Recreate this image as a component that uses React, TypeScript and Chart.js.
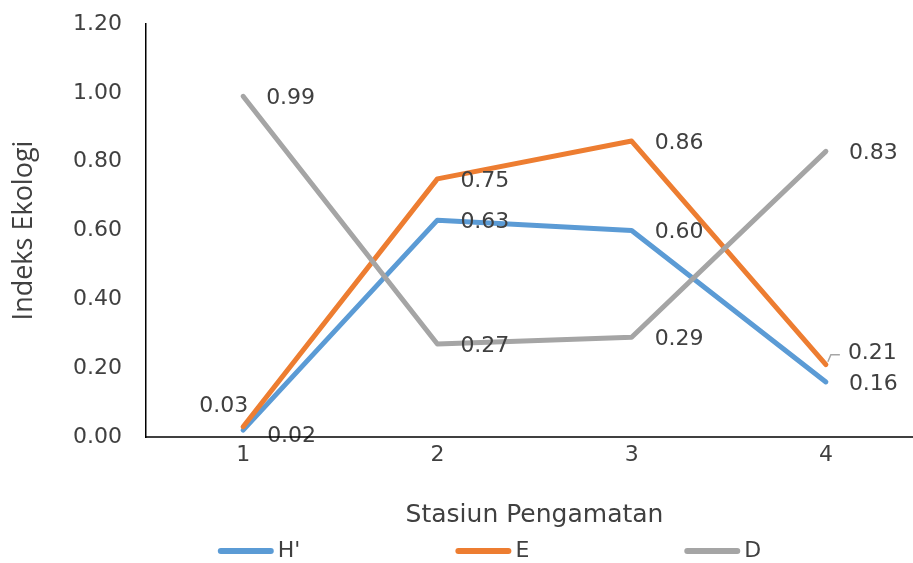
import { useEffect, useRef } from "react";
import { Chart, registerables } from "chart.js";

Chart.register(...registerables);

// Observation stations on the x axis
const stations = ["1", "2", "3", "4"];
// Diversity (H'), evenness (E) and dominance (D) per station
const diversityH = [0.02, 0.63, 0.6, 0.16];
const evennessE = [0.03, 0.75, 0.86, 0.21];
const dominanceD = [0.99, 0.27, 0.29, 0.83];
// Value axis range and tick step
const yMin = 0;
const yMax = 1.2;
const yStep = 0.2;

const seriesNames = ["H'", "E", "D"];
const seriesColors = ["#5B9BD5", "#ED7D31", "#A5A5A5"];

const TEXT = "#404040";
const FONT = "'DejaVu Sans', sans-serif";

// Label placement tweaks: [seriesIndex, pointIndex] -> position style
type Place = { dx: number; dy: number; align: CanvasTextAlign; leader?: boolean };
const defaultPlace: Place = { dx: 23, dy: 2, align: "left" };
const specialPlaces: Record<string, Place> = {
  "0-0": { dx: 24, dy: 6, align: "left" },
  "1-0": { dx: 5, dy: -20, align: "right" },
  "1-3": { dx: 22, dy: -11, align: "left", leader: true },
};

const dataLabelPlugin = {
  id: "pointValueLabels",
  afterDatasetsDraw(chart: any) {
    const ctx: CanvasRenderingContext2D = chart.ctx;
    ctx.save();
    ctx.font = `22px ${FONT}`;
    ctx.fillStyle = TEXT;
    ctx.textBaseline = "middle";
    chart.data.datasets.forEach((ds: any, si: number) => {
      const meta = chart.getDatasetMeta(si);
      meta.data.forEach((pt: any, pi: number) => {
        const v = ds.data[pi] as number;
        const place = specialPlaces[`${si}-${pi}`] || defaultPlace;
        if (place.leader) {
          ctx.strokeStyle = "#A6A6A6";
          ctx.lineWidth = 1.5;
          ctx.beginPath();
          ctx.moveTo(pt.x + 2, pt.y - 3);
          ctx.lineTo(pt.x + 5, pt.y - 10);
          ctx.lineTo(pt.x + 14, pt.y - 10);
          ctx.stroke();
        }
        ctx.textAlign = place.align;
        ctx.fillText(v.toFixed(2), pt.x + place.dx, pt.y + place.dy);
      });
    });
    ctx.restore();
  },
};

// Category axis line, running from the value axis to the canvas edge
const baselinePlugin = {
  id: "categoryBaseline",
  afterDraw(chart: any) {
    const ctx: CanvasRenderingContext2D = chart.ctx;
    const { left, bottom } = chart.chartArea;
    ctx.save();
    ctx.strokeStyle = "#000000";
    ctx.lineWidth = 1.5;
    ctx.beginPath();
    ctx.moveTo(left - 0.75, bottom);
    ctx.lineTo(chart.width, bottom);
    ctx.stroke();
    ctx.restore();
  },
};

const legendPlugin = {
  id: "lineLegend",
  afterDraw(chart: any) {
    const ctx: CanvasRenderingContext2D = chart.ctx;
    const lineLen = 56;
    const textGap = 4;
    const itemGap = 155;
    ctx.save();
    ctx.font = `22px ${FONT}`;
    ctx.textBaseline = "middle";
    ctx.textAlign = "left";
    const widths = seriesNames.map((n) => lineLen + textGap + ctx.measureText(n).width);
    const total = widths.reduce((a, b) => a + b, 0) + itemGap * (widths.length - 1);
    let x = chart.width / 2 + 28 - total / 2;
    const y = chart.height - 12;
    seriesNames.forEach((name, i) => {
      ctx.strokeStyle = seriesColors[i];
      ctx.lineWidth = 6;
      ctx.lineCap = "round";
      ctx.beginPath();
      ctx.moveTo(x + 3, y);
      ctx.lineTo(x + lineLen - 3, y);
      ctx.stroke();
      ctx.fillStyle = TEXT;
      ctx.fillText(name, x + lineLen + textGap, y);
      x += widths[i] + itemGap;
    });
    ctx.restore();
  },
};

export default function App() {
  const canvasRef = useRef<HTMLCanvasElement | null>(null);

  useEffect(() => {
    if (!canvasRef.current) return;
    const series = [diversityH, evennessE, dominanceD];
    const chart = new Chart(canvasRef.current, {
      type: "line",
      data: {
        labels: stations,
        datasets: series.map((values, i) => ({
          label: seriesNames[i],
          data: values,
          borderColor: seriesColors[i],
          backgroundColor: seriesColors[i],
          borderWidth: 5,
          borderCapStyle: "round" as const,
          borderJoinStyle: "round" as const,
          pointRadius: 0,
          pointHoverRadius: 0,
          tension: 0,
          fill: false,
          order: 3 - i,
        })),
      },
      options: {
        responsive: false,
        animation: false,
        events: [],
        layout: { padding: { top: 24, left: 0, right: 0, bottom: 0 } },
        plugins: {
          legend: { display: false },
          tooltip: { enabled: false },
        },
        scales: {
          x: {
            offset: true,
            grid: { display: false, drawTicks: false },
            border: { display: false },
            ticks: { color: TEXT, font: { family: FONT, size: 22 }, padding: 5 },
            title: {
              display: true,
              text: "Stasiun Pengamatan",
              color: TEXT,
              font: { family: FONT, size: 25 },
              padding: { top: 0, bottom: 33 },
            },
            afterFit(scale: any) {
              scale.height = 126;
            },
          },
          y: {
            min: yMin,
            max: yMax,
            grid: { display: false, drawTicks: false },
            border: { display: true, color: "#000000", width: 1.5 },
            ticks: {
              stepSize: yStep,
              color: TEXT,
              font: { family: FONT, size: 22 },
              padding: 24,
              callback: (v: any) => Number(v).toFixed(2),
            },
            title: {
              display: true,
              text: "Indeks Ekologi",
              color: TEXT,
              font: { family: "'Open Sans', sans-serif", size: 27 },
              padding: { top: 8, bottom: 0 },
            },
            afterFit(scale: any) {
              scale.width = 146;
              scale.paddingTop = 0;
              scale.paddingBottom = 0;
            },
          },
        },
      },
      plugins: [dataLabelPlugin, baselinePlugin, legendPlugin],
    });
    return () => chart.destroy();
  }, []);

  return (
    <div
      style={{
        position: "fixed",
        left: 0,
        top: 0,
        width: 913,
        height: 563,
        overflow: "hidden",
        background: "#ffffff",
      }}
    >
      <canvas ref={canvasRef} width={923} height={563} style={{ display: "block" }} />
    </div>
  );
}
